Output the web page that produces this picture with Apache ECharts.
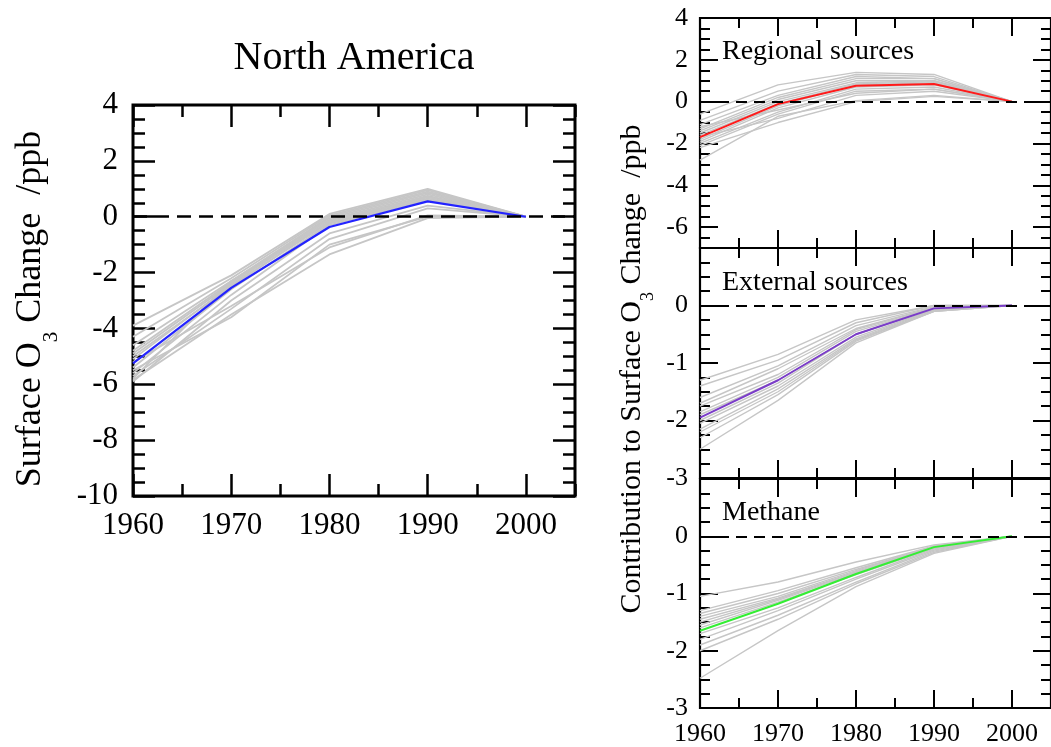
<!DOCTYPE html>
<html><head><meta charset="utf-8">
<script src="https://cdn.jsdelivr.net/npm/echarts@6/dist/echarts.min.js"></script>
<style>html,body{margin:0;padding:0;background:#fff}#c{width:1051px;height:747px}</style>
</head><body><div id="c"></div>
<script>
// ---------------- data ----------------
const years = [1960, 1970, 1980, 1990, 2000];
const xTickValues = [1960, 1970, 1980, 1990, 2000];

const naYTicks = [4, 2, 0, -2, -4, -6, -8, -10];
const regYTicks = [4, 2, 0, -2, -4, -6];
const extYTicks = [0, -1, -2, -3];
const ch4YTicks = [0, -1, -2, -3];

const naMain = [-5.25, -2.55, -0.37, 0.55, 0];
const naModels = [
  [-3.9, -2.1, 0.1, 1.0, 0],
  [-4.3, -2.2, 0.05, 0.95, 0],
  [-4.6, -2.3, 0.0, 0.9, 0],
  [-4.8, -2.35, -0.05, 0.85, 0],
  [-4.9, -2.4, -0.1, 0.8, 0],
  [-5.0, -2.5, -0.15, 0.75, 0],
  [-5.1, -2.45, -0.2, 0.7, 0],
  [-5.4, -2.6, -0.25, 0.65, 0],
  [-5.6, -2.8, -0.3, 0.6, 0],
  [-5.8, -2.3, -0.2, 0.7, 0],
  [-5.9, -3.0, -0.6, 0.4, 0],
  [-5.7, -3.3, -0.8, 0.3, 0],
  [-5.5, -3.6, -1.0, 0.0, 0],
  [-5.85, -3.5, -1.35, -0.05, 0],
  [-5.2, -3.2, -1.1, 0.05, 0]
];

const regMain = [-1.7, -0.12, 0.76, 0.84, 0];
const regModels = [
  [-0.6, 0.8, 1.4, 1.3, 0],
  [-0.9, 0.5, 1.3, 1.2, 0],
  [-1.1, 0.3, 1.2, 1.1, 0],
  [-1.3, 0.2, 1.1, 1.1, 0],
  [-1.4, 0.1, 1.0, 1.0, 0],
  [-1.5, 0.0, 0.9, 1.0, 0],
  [-1.6, -0.1, 0.85, 0.95, 0],
  [-1.8, -0.2, 0.8, 0.9, 0],
  [-1.9, -0.3, 0.7, 0.8, 0],
  [-2.0, -0.5, 0.6, 0.7, 0],
  [-2.1, -0.6, 0.5, 0.6, 0],
  [-1.7, -0.8, 0.3, 0.5, 0],
  [-2.2, -1.0, 0.0, 0.25, 0],
  [-2.8, -0.7, 0.05, 0.3, 0],
  [-1.2, -0.4, 0.4, 0.6, 0]
];

const extMain = [-1.95, -1.3, -0.5, -0.05, 0];
const extModels = [
  [-1.3, -0.85, -0.25, 0.0, 0],
  [-1.4, -0.95, -0.3, 0.0, 0],
  [-1.6, -1.05, -0.35, -0.02, 0],
  [-1.7, -1.1, -0.4, -0.03, 0],
  [-1.75, -1.2, -0.42, -0.04, 0],
  [-1.85, -1.25, -0.45, -0.05, 0],
  [-2.0, -1.35, -0.5, -0.06, 0],
  [-2.05, -1.4, -0.55, -0.07, 0],
  [-2.15, -1.45, -0.58, -0.08, 0],
  [-2.2, -1.5, -0.6, -0.1, 0],
  [-2.3, -1.55, -0.62, -0.1, 0],
  [-2.5, -1.65, -0.65, -0.1, 0],
  [-1.9, -1.3, -0.5, -0.05, 0]
];

const ch4Main = [-1.65, -1.18, -0.66, -0.19, 0];
const ch4Models = [
  [-1.05, -0.8, -0.45, -0.15, 0],
  [-1.3, -0.95, -0.55, -0.17, 0],
  [-1.35, -1.0, -0.58, -0.18, 0],
  [-1.4, -1.05, -0.6, -0.18, 0],
  [-1.45, -1.08, -0.62, -0.19, 0],
  [-1.5, -1.1, -0.63, -0.2, 0],
  [-1.55, -1.12, -0.65, -0.2, 0],
  [-1.6, -1.15, -0.67, -0.21, 0],
  [-1.7, -1.25, -0.72, -0.22, 0],
  [-1.8, -1.3, -0.75, -0.24, 0],
  [-1.9, -1.38, -0.8, -0.26, 0],
  [-2.0, -1.45, -0.83, -0.28, 0],
  [-2.48, -1.65, -0.88, -0.3, 0]
];

// ---------------- layout / style ----------------
const FONT = '"Liberation Serif", "Times New Roman", serif';
const GRAY = '#c6c6c6';
const X_MIN = 1960, X_MAX = 2005;

const panels = [
  { left: 133, top: 105, width: 442, height: 391, yMin: -10, yMax: 4, yMinorStep: 0.5,
    yMajor: naYTicks, yLabels: naYTicks, xLabels: true, main: naMain, models: naModels,
    color: '#2323ff', bw: 3, tw: 2.5, maj: 22, mnr: 12, fs: 31, xMargin: 14, yMargin: 15,
    gw: 1.8, mw: 2.2, dash: [14, 8], dashW: 2.5 },
  { left: 700, top: 18, width: 363, height: 230, yMin: -7, yMax: 4, yMinorStep: 0.5,
    yMajor: [-6, -4, -2, 0, 2, 4], yLabels: regYTicks, xLabels: false, main: regMain, models: regModels,
    color: '#ff1a1a', bw: 2.2, tw: 2, maj: 18, mnr: 10, fs: 26, xMargin: 13, yMargin: 12,
    gw: 1.4, mw: 2, dash: [11, 7], dashW: 2 },
  { left: 700, top: 248, width: 363, height: 230, yMin: -3, yMax: 1, yMinorStep: 0.25,
    yMajor: [-3, -2, -1, 0, 1], yLabels: extYTicks, xLabels: false, main: extMain, models: extModels,
    color: '#7a3cc8', bw: 2.2, tw: 2, maj: 18, mnr: 10, fs: 26, xMargin: 13, yMargin: 12,
    gw: 1.4, mw: 2, dash: [11, 7], dashW: 2 },
  { left: 700, top: 479, width: 363, height: 231, yMin: -3, yMax: 1, yMinorStep: 0.25,
    yMajor: [-3, -2, -1, 0, 1], yLabels: ch4YTicks, xLabels: true, main: ch4Main, models: ch4Models,
    color: '#33ee33', bw: 2.2, tw: 2, maj: 18, mnr: 10, fs: 26, xMargin: 13, yMargin: 12,
    gw: 1.4, mw: 2, dash: [11, 7], dashW: 2 }
];

const grid = [], xAxis = [], yAxis = [], series = [];
const plain = v => String(v);

panels.forEach((p, gi) => {
  grid.push({ left: p.left, top: p.top, width: p.width, height: p.height, show: true,
    borderColor: '#000', borderWidth: p.bw, backgroundColor: 'transparent', containLabel: false });
  const tickStyle = { color: '#000', width: p.tw };
  const labelStyle = (show, values, margin) => ({ show: show, customValues: values, fontFamily: FONT,
    fontSize: p.fs, color: '#000', margin: margin, formatter: plain });
  const baseX = { type: 'value', gridIndex: gi, min: X_MIN, max: X_MAX,
    axisLine: { show: false, onZero: false }, splitLine: { show: false } };
  const baseY = { type: 'value', gridIndex: gi, min: p.yMin, max: p.yMax,
    axisLine: { show: false, onZero: false }, splitLine: { show: false } };
  const xMainIdx = xAxis.length;
  ['bottom', 'top'].forEach(pos => {
    xAxis.push(Object.assign({}, baseX, { position: pos, interval: 10,
      axisTick: { inside: true, length: p.maj, lineStyle: tickStyle, customValues: xTickValues },
      axisLabel: labelStyle(pos === 'bottom' && p.xLabels, xTickValues, p.xMargin) }));
    xAxis.push(Object.assign({}, baseX, { position: pos, interval: 5,
      axisTick: { inside: true, length: p.mnr, lineStyle: tickStyle },
      axisLabel: { show: false } }));
  });
  const yMainIdx = yAxis.length;
  ['left', 'right'].forEach(pos => {
    yAxis.push(Object.assign({}, baseY, { position: pos,
      axisTick: { inside: true, length: p.maj, lineStyle: tickStyle, customValues: p.yMajor },
      axisLabel: labelStyle(pos === 'left', p.yLabels, p.yMargin) }));
    yAxis.push(Object.assign({}, baseY, { position: pos, interval: p.yMinorStep,
      axisTick: { inside: true, length: p.mnr, lineStyle: tickStyle },
      axisLabel: { show: false } }));
  });

  p.models.forEach(m => {
    series.push({ type: 'line', xAxisIndex: xMainIdx, yAxisIndex: yMainIdx,
      data: years.map((y, i) => [y, m[i]]), symbol: 'none', silent: true, z: 2,
      lineStyle: { color: GRAY, width: p.gw } });
  });
  series.push({ type: 'line', xAxisIndex: xMainIdx, yAxisIndex: yMainIdx, data: [], z: 3,
    markLine: { symbol: 'none', silent: true, label: { show: false }, animation: false,
      lineStyle: { color: '#000', width: p.dashW, type: p.dash }, data: [{ yAxis: 0 }] } });
  series.push({ type: 'line', xAxisIndex: xMainIdx, yAxisIndex: yMainIdx,
    data: years.map((y, i) => [y, p.main[i]]), symbol: 'none', silent: true, z: 4,
    lineStyle: { color: p.color, width: p.mw } });
});

const txt = (x, y, text, size, align) => ({ type: 'text', x: x, y: y, silent: true,
  style: { text: text, fontFamily: FONT, fontSize: size, fill: '#000',
    textAlign: align, textVerticalAlign: 'middle', align: align, verticalAlign: 'middle' } });

const graphic = [
  txt(354, 58, 'North America', 40, 'center'),
  txt(722, 52, 'Regional sources', 28, 'left'),
  txt(722, 283, 'External sources', 28, 'left'),
  txt(722, 513, 'Methane', 28, 'left'),
  { type: 'text', x: 31, y: 309, rotation: Math.PI / 2, silent: true,
    style: { text: 'Surface O{sub|3} Change  /ppb', fontFamily: FONT, fontSize: 36, fill: '#000',
      textAlign: 'center', textVerticalAlign: 'middle', align: 'center', verticalAlign: 'middle',
      rich: { sub: { fontFamily: FONT, fontSize: 21, lineHeight: 21, padding: [40, 0, 0, 0], fill: '#000' } } } },
  { type: 'text', x: 632, y: 369, rotation: Math.PI / 2, silent: true,
    style: { text: 'Contribution to Surface O{sub|3} Change  /ppb', fontFamily: FONT, fontSize: 30, fill: '#000',
      textAlign: 'center', textVerticalAlign: 'middle', align: 'center', verticalAlign: 'middle',
      rich: { sub: { fontFamily: FONT, fontSize: 18, lineHeight: 18, padding: [33, 0, 0, 0], fill: '#000' } } } }
];

const chart = echarts.init(document.getElementById('c'), null, { renderer: 'canvas' });
chart.setOption({ animation: false, backgroundColor: '#fff', grid, xAxis, yAxis, series, graphic });
</script></body></html>
